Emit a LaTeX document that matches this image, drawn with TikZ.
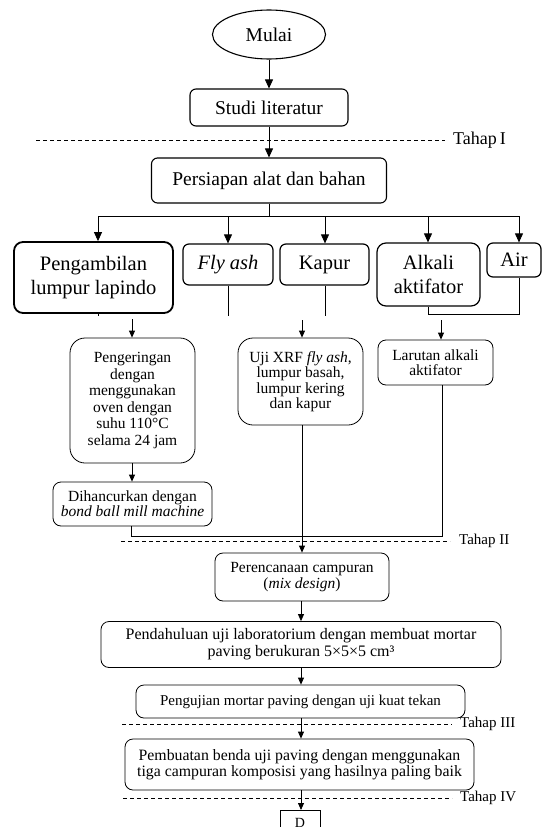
\documentclass[tikz,border=0pt]{standalone}
\usepackage{fontspec}
\setmainfont{Liberation Serif}
\usetikzlibrary{shapes.geometric,arrows.meta,calc}
\newcommand{\fsz}[2]{\fontsize{#1}{#2}\selectfont}
\begin{document}
\begin{tikzpicture}[x=1pt,y=-1pt,
  startnode/.style={draw, ellipse, line width=1.1pt, inner sep=0pt, minimum width=113pt, minimum height=49pt, font=\fsz{19.5}{23}},
  topbox/.style={draw, rounded corners=6pt, line width=1.1pt, align=center, inner sep=0pt, font=\fsz{19.5}{23}},
  rowbox/.style={draw, rounded corners=6pt, line width=1.2pt, align=center, inner sep=0pt, font=\fsz{20.5}{23.5}},
  lowbox/.style={draw, rounded corners=8pt, line width=0.8pt, align=center, inner sep=0pt},
  conn/.style={line width=0.8pt},
  bigarr/.style={line width=0.8pt, -{Triangle[length=9pt,width=8pt]}},
  arr/.style={line width=0.8pt, -{Triangle[length=7pt,width=6pt]}},
  phase/.style={line width=0.7pt, dash pattern=on 4pt off 3pt},
  phaselabel/.style={anchor=west, inner sep=0pt, font=\fsz{15}{17}}
]
\useasboundingbox (0,0) rectangle (543,827);

% top
\node[startnode] (mulai) at (269,34.5) {Mulai};
\node[topbox, minimum width=158pt, minimum height=37pt] (studi) at (269,107.5) {Studi literatur};
\node[topbox, minimum width=235pt, minimum height=45pt] (persiapan) at (269,180.5) {Persiapan alat dan bahan};
\draw[bigarr] (mulai) -- (studi);
\draw[bigarr] (studi) -- (persiapan);

\coordinate (t1a) at (36,140);
\coordinate (t1b) at (445,140);
\draw[phase] (t1a) -- (t1b);
\node[phaselabel, font=\fsz{18}{20}] (tahap1) at (453,140) {Tahap\,I};

% row of materials
\node[rowbox, line width=1.8pt, rounded corners=9pt, minimum width=159pt, minimum height=71pt] (peng) at (93.5,277.5) {Pengambilan\\lumpur lapindo};
\node[rowbox, minimum width=90pt, minimum height=41pt] (fly) at (228,264.5) {\textit{Fly ash}};
\node[rowbox, minimum width=89pt, minimum height=41pt] (kapur) at (324.5,264.5) {Kapur};
\node[rowbox, rounded corners=9pt, minimum width=103pt, minimum height=63pt] (alkali) at (428.5,274.5) {Alkali\\aktifator};
\node[rowbox, minimum width=54pt, minimum height=34pt] (air) at (514,260) {Air};

\coordinate (bus) at (269,216);
\coordinate (b1) at (98,216);
\coordinate (b2) at (228,216);
\coordinate (b3) at (325,216);
\coordinate (b4) at (428,216);
\coordinate (b5) at (519,216);
\draw[conn] (persiapan.south) -- (bus);
\draw[conn] (b1) -- (b5);
\draw[bigarr] (b1) -- (b1 |- peng.north);
\draw[bigarr] (b2) -- (b2 |- fly.north);
\draw[bigarr] (b3) -- (b3 |- kapur.north);
\draw[bigarr] (b4) -- (b4 |- alkali.north);
\draw[bigarr] (b5) -- (b5 |- air.north);

% stubs
\coordinate (s1) at (98,316);
\coordinate (s2) at (228,316);
\coordinate (s3) at (325,316);
\coordinate (s4) at (428,314);
\coordinate (s5) at (519,314);
\draw[conn] (s1 |- peng.south) -- (s1);
\draw[conn] (s2 |- fly.south) -- (s2);
\draw[conn] (s3 |- kapur.south) -- (s3);
\draw[conn] (s4 |- alkali.south) -- (s4) -- (s5) -- (s5 |- air.south);

% second level
\node[lowbox, rounded corners=15pt, minimum width=125pt, minimum height=125pt, font=\fsz{15.5}{16.6}] (kering) at (132.5,400.5)
  {Pengeringan\\dengan\\menggunakan\\oven dengan\\suhu 110°C\\selama 24 jam};
\node[lowbox, rounded corners=15pt, minimum width=125pt, minimum height=87pt, font=\fsz{15.5}{15.5}] (uji) at (300.5,381.5)
  {Uji XRF \textit{fly ash},\\lumpur basah,\\lumpur kering\\dan kapur};
\node[lowbox, minimum width=115pt, minimum height=45pt, font=\fsz{15.5}{15}] (larutan) at (435.5,362.5)
  {Larutan alkali\\aktifator};
\node[lowbox, minimum width=159pt, minimum height=44pt, font=\fsz{15.5}{15}] (hancur) at (132.5,504)
  {Dihancurkan dengan\\\textit{bond ball mill machine}};

\coordinate (a1) at (132,319);
\coordinate (a2) at (302,320);
\coordinate (a3) at (441,320);
\draw[arr] (a1) -- (a1 |- kering.north);
\draw[arr] (a2) -- (a2 |- uji.north);
\draw[arr] (a3) -- (a3 |- larutan.north);
\draw[arr] (kering.south -| a1) -- (a1 |- hancur.north);

% merge
\node[lowbox, minimum width=174pt, minimum height=48pt, font=\fsz{15.5}{16.5}] (rencana) at (302,577)
  {Perencanaan campuran\\(\textit{mix design})};
\coordinate (m1) at (131,536);
\coordinate (m2) at (442,536);
\draw[conn] (m1 |- hancur.south) -- (m1) -- (m2) -- (m2 |- larutan.south);
\draw[arr] (a2 |- uji.south) -- (a2 |- rencana.north);

\draw[phase] (121,541) coordinate (t2a) -- (450,541) coordinate (t2b);
\node[phaselabel] (tahap2) at (459,541) {Tahap II};

\node[lowbox, minimum width=400pt, minimum height=46pt, font=\fsz{16}{17}] (pendahuluan) at (301,644.5)
  {Pendahuluan uji laboratorium dengan membuat mortar\\paving berukuran 5×5×5 cm³};
\node[lowbox, minimum width=329pt, minimum height=33pt, font=\fsz{15}{17}] (pengujian) at (300.5,701.5)
  {Pengujian mortar paving dengan uji kuat tekan};
\node[lowbox, minimum width=349pt, minimum height=51pt, font=\fsz{15.8}{16.5}] (pembuatan) at (299.5,764.5)
  {Pembuatan benda uji paving dengan menggunakan\\tiga campuran komposisi yang hasilnya paling baik};
\node[draw, line width=0.8pt, minimum width=40pt, minimum height=25pt, anchor=north, inner sep=0pt, font=\fsz{14}{16}] (d) at (300,810) {D};

\coordinate (c) at (301,600);
\draw[arr] (c |- rencana.south) -- (c |- pendahuluan.north);
\draw[arr] (c |- pendahuluan.south) -- (c |- pengujian.north);
\draw[arr] (c |- pengujian.south) -- (c |- pembuatan.north);
\draw[arr] (c |- pembuatan.south) -- (c |- d.north);

\draw[phase] (122,724) coordinate (t3a) -- (452,724) coordinate (t3b);
\node[phaselabel] (tahap3) at (460,724) {Tahap III};
\draw[phase] (123,798) coordinate (t4a) -- (452,798) coordinate (t4b);
\node[phaselabel] (tahap4) at (460,798) {Tahap IV};
\end{tikzpicture}
\end{document}
